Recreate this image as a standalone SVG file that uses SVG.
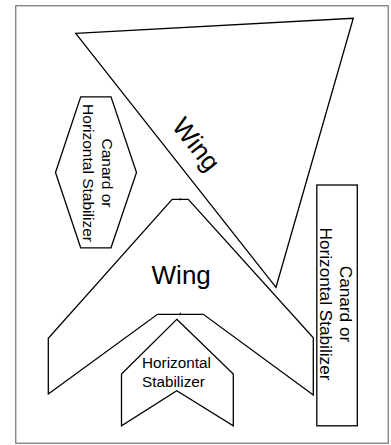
<svg xmlns="http://www.w3.org/2000/svg" width="391" height="445" viewBox="0 0 391 445">
<style>
.shape{fill:#fff;stroke:#000;stroke-width:1.3;stroke-linejoin:miter}
.lbl{font-family:"Liberation Sans",Arial,sans-serif;fill:#000}
</style>
<rect x="0" y="0" width="391" height="445" fill="#fff"/>
<g id="border">
<rect x="15.8" y="5.8" width="372.4" height="437.4" fill="#fff" stroke="#555" stroke-width="1"/>
</g>
<g id="wing-triangle">
<polygon class="shape" points="75.7,33.3 353.3,18.3 276,287.3"/>
<text class="lbl" font-size="26" text-anchor="middle" transform="translate(189.3,149.8) rotate(52)">Wing</text>
</g>
<g id="canard-hexagon">
<polygon class="shape" points="80.7,96.8 111,96.8 136.5,172.5 111,247.8 80.7,247.8 55.5,172.5"/>
<g class="lbl" font-size="15.5" text-anchor="middle" transform="translate(102,173) rotate(90)">
<text x="0" y="0">Canard or</text>
<text x="0" y="18.6">Horizontal Stabilizer</text>
</g>
</g>
<g id="canard-rect">
<rect class="shape" x="316.8" y="185" width="40.5" height="240.8"/>
<g class="lbl" font-size="17.2" text-anchor="middle" transform="translate(340,304) rotate(90)">
<text x="0" y="0">Canard or</text>
<text x="0" y="20">Horizontal Stabilizer</text>
</g>
</g>
<g id="wing-chevron">
<polygon class="shape" points="172.2,199.3 188.3,199.3 313.3,337.7 313.3,395 203.3,314.3 157.5,314.3 48.3,394 48.3,338.3"/>
<line x1="180.3" y1="198.2" x2="180.3" y2="200.4" stroke="#000" stroke-width="1"/>
<line x1="180.3" y1="312.6" x2="180.3" y2="315.2" stroke="#000" stroke-width="1"/>
<text class="lbl" font-size="26" text-anchor="middle" x="181.2" y="284">Wing</text>
</g>
<g id="horizontal-stabilizer">
<polygon class="shape" points="176.8,319.3 233.3,374 233.3,425.8 176.8,390.7 121.5,425.8 121.5,374"/>
<text class="lbl" font-size="15.3" x="142" y="368.3">Horizontal</text>
<text class="lbl" font-size="15.3" x="142" y="387.3">Stabilizer</text>
</g>
<g id="connectors"></g>
</svg>
